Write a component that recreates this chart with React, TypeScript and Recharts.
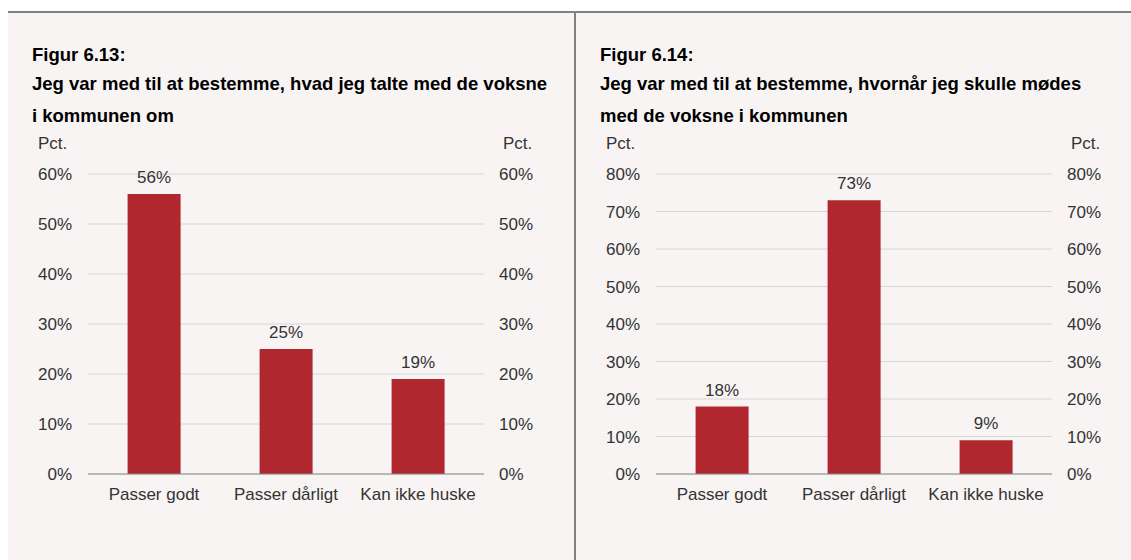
import React from "react";
import { BarChart, Bar, XAxis, YAxis, CartesianGrid, LabelList } from "recharts";

const categories = ["Passer godt", "Passer dårligt", "Kan ikke huske"];
const valuesFig613 = [56, 25, 19];
const valuesFig614 = [18, 73, 9];
const ticksFig613 = [0, 10, 20, 30, 40, 50, 60];
const ticksFig614 = [0, 10, 20, 30, 40, 50, 60, 70, 80];
const edgeTicks = [0, 1, 2, 3];
const titleFig613 = [
  "Figur 6.13:",
  "Jeg var med til at bestemme, hvad jeg talte med de voksne",
  "i kommunen om",
];
const titleFig614 = [
  "Figur 6.14:",
  "Jeg var med til at bestemme, hvornår jeg skulle mødes",
  "med de voksne i kommunen",
];

const FONT = "'Liberation Sans', Arial, Helvetica, sans-serif";
const titleTops = [46, 74.5, 106.5];
const pct = (v: number) => `${v}%`;
const tickStyle = { fill: "#333", fontSize: 17, fontFamily: FONT };

const Panel = ({ x0, title, values, ticks }) => {
  const data = categories.map((c, i) => ({ category: c, value: values[i] }));
  const max = ticks[ticks.length - 1];
  const small = {
    position: "absolute" as const,
    top: 134.6,
    font: `17px ${FONT}`,
    lineHeight: "17px",
    color: "#333",
  };
  return (
    <>
      {title.map((line, i) => (
        <div
          key={i}
          style={{
            position: "absolute",
            left: x0 + 12,
            top: titleTops[i],
            font: `bold 18.5px ${FONT}`,
            lineHeight: "18.5px",
            whiteSpace: "nowrap",
            color: "#000",
          }}
        >
          {line}
        </div>
      ))}
      <div style={{ ...small, left: x0 + 18 }}>Pct.</div>
      <div style={{ ...small, left: x0 + 483 }}>Pct.</div>
      <div style={{ position: "absolute", left: x0, top: 130 }}>
        <BarChart
          width={540}
          height={380}
          data={data}
          margin={{ top: 44, right: 0, bottom: 6, left: 0 }}
          barCategoryGap="30%"
        >
          <CartesianGrid xAxisId="cat" yAxisId="left" vertical={false} stroke="#d6d6d6" />
          {/* category labels */}
          <XAxis
            xAxisId="cat"
            dataKey="category"
            height={29}
            interval={0}
            axisLine={false}
            tickLine={false}
            tickSize={0}
            tickMargin={13}
            tick={tickStyle}
          />
          {/* base line with ticks between the categories */}
          <XAxis
            xAxisId="base"
            type="number"
            domain={[0, 3]}
            ticks={edgeTicks}
            allowDataOverflow
            height={1}
            tick={false}
            tickSize={6}
            stroke="#8a8a8a"
          />
          <YAxis
            yAxisId="left"
            orientation="left"
            width={68}
            domain={[0, max]}
            allowDataOverflow
            ticks={ticks}
            tickFormatter={pct}
            axisLine={false}
            tickLine={false}
            tickSize={0}
            tickMargin={16}
            tick={tickStyle}
          />
          <YAxis
            yAxisId="right"
            orientation="right"
            width={76}
            domain={[0, max]}
            allowDataOverflow
            ticks={ticks}
            tickFormatter={pct}
            axisLine={false}
            tickLine={false}
            tickSize={0}
            tickMargin={15}
            tick={tickStyle}
          />
          <Bar
            xAxisId="cat"
            yAxisId="left"
            dataKey="value"
            fill="#b02730"
            isAnimationActive={false}
          >
            <LabelList
              dataKey="value"
              position="top"
              offset={11}
              formatter={pct}
              fill="#333"
              fontSize={17}
              fontFamily={FONT}
            />
          </Bar>
        </BarChart>
      </div>
    </>
  );
};

export default function App() {
  return (
    <div style={{ position: "absolute", left: 0, top: 0, width: 1131, height: 560, background: "#fff", overflow: "hidden" }}>
      <div
        style={{
          position: "absolute",
          left: 8,
          top: 11,
          width: 1123,
          height: 549,
          background: "#f8f4f3",
          borderTop: "2px solid #808080",
        }}
      />
      <div style={{ position: "absolute", left: 574, top: 11, width: 2, height: 549, background: "#808080" }} />
      <Panel x0={20} title={titleFig613} values={valuesFig613} ticks={ticksFig613} />
      <Panel x0={588} title={titleFig614} values={valuesFig614} ticks={ticksFig614} />
    </div>
  );
}
